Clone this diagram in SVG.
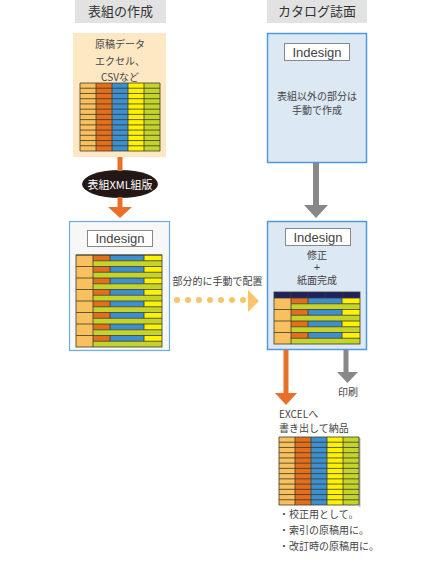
<svg xmlns="http://www.w3.org/2000/svg" xmlns:xlink="http://www.w3.org/1999/xlink" width="447" height="567" viewBox="0 0 447 567">
<style>
text{font-family:"Noto Sans CJK JP","Noto Sans",sans-serif;fill:#444;}
.hd{font-size:13px;text-anchor:middle;fill:#333;}
.t{font-size:10px;text-anchor:middle;}
.tl{font-size:10px;}
.ind{font-family:"Liberation Sans",Arial,sans-serif;font-size:13px;text-anchor:middle;fill:#444;}
.lab{fill:#fff;stroke:#888;stroke-width:1;}
.c{stroke:#3a3a2a;stroke-width:0.8;}
</style>
<defs>
  <g id="tbl5">
    <rect x="0" y="0" width="16" height="68" fill="#f9c060"/>
    <rect x="16" y="0" width="16" height="68" fill="#e36f1e"/>
    <rect x="32" y="0" width="16" height="68" fill="#3d8fcf"/>
    <rect x="48" y="0" width="16" height="68" fill="#fff200"/>
    <rect x="64" y="0" width="16" height="68" fill="#c4d42a"/>
    <path class="c" fill="none" d="M0,0H80V68H0Z M16,0V68 M32,0V68 M48,0V68 M64,0V68 M0,5.23H80 M0,10.46H80 M0,15.69H80 M0,20.92H80 M0,26.15H80 M0,31.38H80 M0,36.62H80 M0,41.85H80 M0,47.08H80 M0,52.31H80 M0,57.54H80 M0,62.77H80"/>
  </g>
  <g id="grp">
    <rect x="0" y="0" width="17" height="11.5" fill="#f9c060"/>
    <rect x="17" y="0" width="17" height="5.75" fill="#e36f1e"/>
    <rect x="34" y="0" width="34" height="5.75" fill="#3d8fcf"/>
    <rect x="68" y="0" width="18" height="5.75" fill="#fff200"/>
    <rect x="17" y="5.75" width="69" height="5.75" fill="#c4d42a"/>
    <path class="c" fill="none" d="M0,0H86 M17,5.75H86 M17,0V11.5 M34,0V5.75 M68,0V5.75"/>
  </g>
</defs>

<g id="header-left">
  <rect x="75" y="0" width="91" height="23" fill="#e2e2e2"/>
  <text class="hd" x="120.5" y="16">表組の作成</text>
</g>
<g id="header-right">
  <rect x="267" y="0" width="100" height="23" fill="#e2e2e2"/>
  <text class="hd" x="317" y="16">カタログ誌面</text>
</g>

<g id="source">
  <rect x="73" y="33" width="93" height="124" fill="#fde8c3"/>
  <text class="t" x="120" y="48">原稿データ</text>
  <text class="t" x="120" y="65">エクセル、</text>
  <text class="t" x="120" y="80.5">CSVなど</text>
  <use xlink:href="#tbl5" x="80" y="83"/>
</g>

<g id="xml">
  <ellipse cx="120" cy="184" rx="38" ry="14" fill="#231815"/>
  <text x="120" y="188.5" style="font-size:11px;text-anchor:middle;fill:#fff;">表組XML組版</text>
</g>

<g id="indesign-left">
  <rect x="69.5" y="221.5" width="100" height="129" fill="#f7f7f7" stroke="#6aaee2" stroke-width="1.2"/>
  <rect class="lab" x="87.5" y="230.5" width="65" height="16"/>
  <text class="ind" x="120" y="243">Indesign</text>
  <g>
    <use xlink:href="#grp" x="76" y="255"/>
    <use xlink:href="#grp" x="76" y="266.5"/>
    <use xlink:href="#grp" x="76" y="278"/>
    <use xlink:href="#grp" x="76" y="289.5"/>
    <use xlink:href="#grp" x="76" y="301"/>
    <use xlink:href="#grp" x="76" y="312.5"/>
    <use xlink:href="#grp" x="76" y="324"/>
    <use xlink:href="#grp" x="76" y="335.5"/>
    <rect class="c" x="76" y="255" width="86" height="92" fill="none"/>
  </g>
</g>

<g id="catalog">
  <rect x="267.5" y="33.5" width="99" height="129" fill="#dde8f5" stroke="#4d9ad8" stroke-width="1.5"/>
  <rect class="lab" x="284.5" y="43.5" width="65" height="17"/>
  <text class="ind" x="317" y="57">Indesign</text>
  <text class="t" x="317" y="100">表組以外の部分は</text>
  <text class="t" x="317" y="114">手動で作成</text>
</g>

<g id="indesign-right">
  <rect x="267.5" y="221.5" width="99" height="128" fill="#dde8f5" stroke="#4d9ad8" stroke-width="1.5"/>
  <rect class="lab" x="285.5" y="228.5" width="65" height="17"/>
  <text class="ind" x="318" y="242">Indesign</text>
  <text class="t" x="317" y="258.5">修正</text>
  <text x="317" y="271" style="font-family:'Liberation Sans',Arial,sans-serif;font-size:11px;text-anchor:middle;">+</text>
  <text class="t" x="317" y="283.5">紙面完成</text>
  <g>
    <rect x="274" y="292" width="86" height="6" fill="#1e2260"/>
    <path class="c" fill="none" d="M291,292V298 M308,292V298 M325,292V298 M343,292V298"/>
    <use xlink:href="#grp" x="274" y="298"/>
    <use xlink:href="#grp" x="274" y="309.5"/>
    <use xlink:href="#grp" x="274" y="321"/>
    <use xlink:href="#grp" x="274" y="332.5"/>
    <rect class="c" x="274" y="292" width="86" height="52" fill="none"/>
  </g>
</g>

<g id="excel">
  <text class="tl" x="279" y="418">EXCELへ</text>
  <text class="tl" x="279" y="432">書き出して納品</text>
  <rect x="359" y="438" width="1.5" height="69" fill="#bbb"/>
  <use xlink:href="#tbl5" x="279" y="437"/>
  <text class="tl" x="279" y="518">・校正用として。</text>
  <text class="tl" x="279" y="534">・索引の原稿用に。</text>
  <text class="tl" x="279" y="550">・改訂時の原稿用に。</text>
</g>

<g id="print">
  <text class="t" x="348" y="396">印刷</text>
</g>

<g id="connectors">
  <rect x="117.5" y="157" width="5" height="14" fill="#e8702a"/>
  <rect x="117.5" y="197" width="5" height="11" fill="#e8702a"/>
  <polygon points="108,207 132,207 120,218" fill="#e8702a"/>
  <rect x="313" y="163" width="6" height="43" fill="#888"/>
  <polygon points="304,205 328,205 316,218" fill="#888"/>
  <rect x="283.5" y="350" width="5" height="44" fill="#e8702a"/>
  <polygon points="275,393 297,393 286,405" fill="#e8702a"/>
  <rect x="343.5" y="350" width="5" height="23" fill="#888"/>
  <polygon points="337,372 358,372 347.5,383" fill="#888"/>
  <g fill="#fbc46a">
    <circle cx="177" cy="300" r="3"/>
    <circle cx="188" cy="300" r="3"/>
    <circle cx="199" cy="300" r="3"/>
    <circle cx="210" cy="300" r="3"/>
    <circle cx="221" cy="300" r="3"/>
    <circle cx="232" cy="300" r="3"/>
    <circle cx="243" cy="300" r="3"/>
    <polygon points="248,290 259,301 248,312"/>
  </g>
  <text class="t" x="217.5" y="285">部分的に手動で配置</text>
</g>
</svg>
